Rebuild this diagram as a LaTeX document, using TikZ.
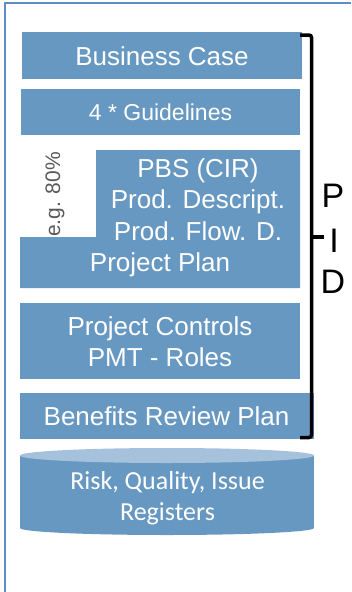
\documentclass[tikz,border=0pt]{standalone}
\usepackage{fontspec}
\setmainfont{Liberation Sans}
\newfontfamily\calib{Carlito}
\definecolor{boxblue}{RGB}{103,152,194}
\definecolor{toplight}{RGB}{166,193,219}
\definecolor{framecol}{RGB}{96,141,198}
\definecolor{egray}{RGB}{89,89,89}
\begin{document}
\begin{tikzpicture}[x=1pt,y=-1pt,
  boxfill/.style={fill=boxblue,draw=none},
  wt/.style={text=white,font=\fontsize{26}{31}\selectfont,anchor=base,inner sep=0pt},
  wtsmall/.style={text=white,font=\fontsize{23}{27}\selectfont,anchor=base,inner sep=0pt},
  cyltext/.style={text=white,font=\calib\fontsize{26}{31}\selectfont,anchor=base,inner sep=0pt},
  pid/.style={text=black,font=\fontsize{34}{40}\selectfont,anchor=base,inner sep=0pt},
  bracketline/.style={line width=3.5pt,black,rounded corners=2.5pt}]
\useasboundingbox (0,0) rectangle (351,592);
% outer frame
\draw[framecol,line width=2pt] (5,592) -- (5,3) -- (351,3);
% boxes
\fill[boxfill] (22,32) rectangle (302,79);
\node[wt] (bc) at (162,65.7) {Business Case};
\fill[boxfill] (21,89) rectangle (300,135);
\node[wtsmall] (gl) at (160.5,120.7) {4 * Guidelines};
\fill[boxfill] (96,150) -- (300,150) -- (300,288) -- (20,288) -- (20,237) -- (96,237) -- cycle;
\node[wt] (pbs) at (198,177.3) {PBS (CIR)};
\node[wt] (pd) at (198,208.5) {Prod. Descript.};
\node[wt] (pf) at (198,240) {Prod. Flow. D.};
\node[wt] (pp) at (160,271) {Project Plan};
\node[rotate=90,text=egray,font=\fontsize{21}{25}\selectfont,inner sep=0pt] (eg) at (55,194.5) {e.g. 80\%};
\fill[boxfill] (20,303) rectangle (300,379);
\node[wt] (pc) at (160,335) {Project Controls};
\node[wt] (pmt) at (160,366.7) {PMT - Roles};
\fill[boxfill] (20,393) rectangle (314,439);
\node[wt] (brp) at (166.5,425) {Benefits Review Plan};
% cylinder
\fill[boxblue] (20,455.5) rectangle (314,528);
\fill[boxblue] (167,528) ellipse [x radius=147, y radius=7];
\fill[toplight] (167,455.5) ellipse [x radius=147, y radius=7.5];
\node[cyltext] (rq) at (167.5,489.3) {Risk, Quality, Issue};
\node[cyltext] (reg) at (167.5,520.7) {Registers};
% bracket
\coordinate (bt) at (300,35);
\coordinate (bb) at (300,437.5);
\coordinate (bm) at (311.5,237);
\coordinate (tk) at (324,237);
\draw[bracketline] (bt) -- (311.5,35) -- (311.5,437.5) -- (bb);
\draw[line width=3.5pt,black] (bm) -- (tk);
\node[pid] (p) at (333,207) {P};
\node[pid] (i) at (334,252) {I};
\node[pid] (d) at (333,293) {D};
\end{tikzpicture}
\end{document}
